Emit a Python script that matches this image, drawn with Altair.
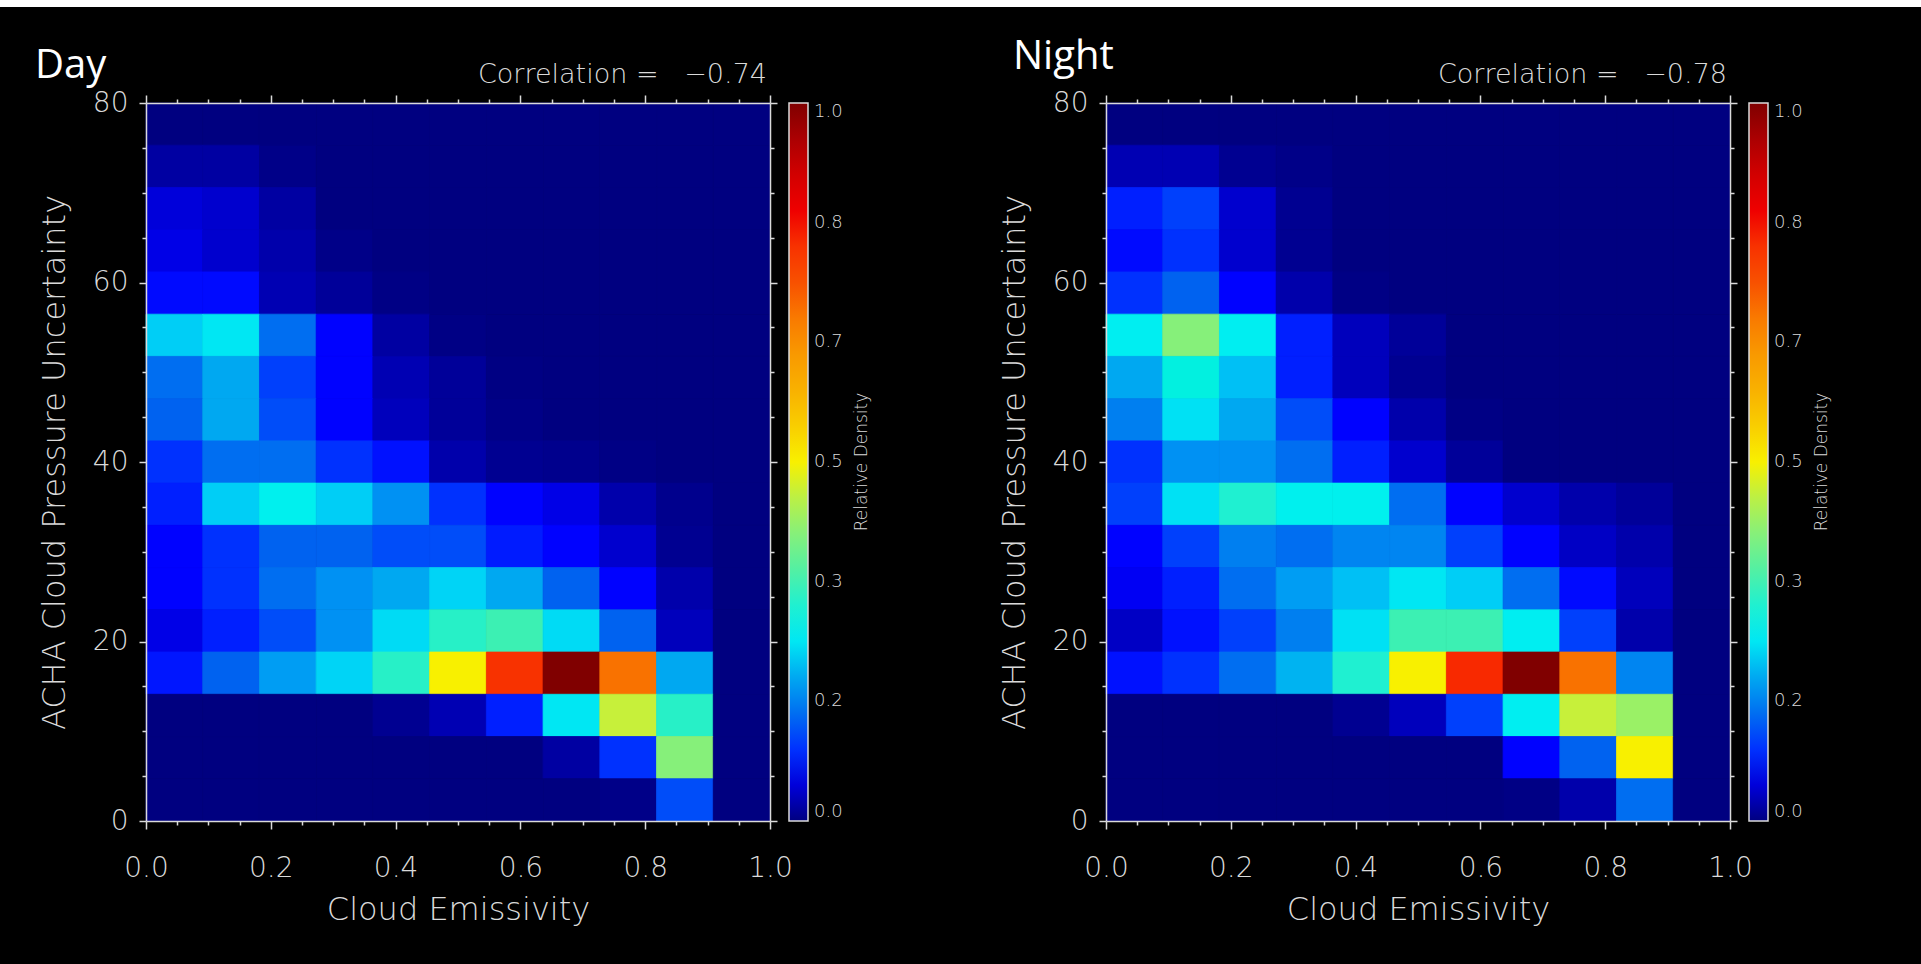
import altair as alt
import pandas as pd

# ---------------- data ----------------
panel_names = ["Day", "Night"]
correlation_labels = ["Correlation =\u00a0\u00a0\u00a0\u22120.74", "Correlation =\u00a0\u00a0\u00a0\u22120.78"]

n_emis_bins = 11          # Cloud Emissivity bins over 0 .. 1
emis_range = [0.0, 1.0]
n_unc_bins = 17           # ACHA Cloud Pressure Uncertainty bins over 0 .. 80
unc_range = [0.0, 80.0]

# relative density, rows listed from the top bin (75-80) down to the bottom bin (0-4.7)
day_density = [
    [0.000, 0.000, 0.000, 0.000, 0.000, 0.000, 0.000, 0.000, 0.000, 0.000, 0.000],
    [0.020, 0.020, 0.005, 0.000, 0.000, 0.000, 0.000, 0.000, 0.000, 0.000, 0.000],
    [0.050, 0.045, 0.020, 0.000, 0.000, 0.000, 0.000, 0.000, 0.000, 0.000, 0.000],
    [0.055, 0.045, 0.025, 0.005, 0.000, 0.000, 0.000, 0.000, 0.000, 0.000, 0.000],
    [0.070, 0.070, 0.030, 0.015, 0.003, 0.000, 0.000, 0.000, 0.000, 0.000, 0.000],
    [0.230, 0.250, 0.150, 0.065, 0.020, 0.003, 0.000, 0.000, 0.000, 0.000, 0.000],
    [0.150, 0.200, 0.110, 0.065, 0.030, 0.015, 0.002, 0.000, 0.000, 0.000, 0.000],
    [0.140, 0.200, 0.120, 0.065, 0.035, 0.015, 0.004, 0.000, 0.000, 0.000, 0.000],
    [0.100, 0.150, 0.150, 0.100, 0.075, 0.025, 0.010, 0.008, 0.003, 0.000, 0.000],
    [0.090, 0.230, 0.260, 0.230, 0.180, 0.100, 0.065, 0.055, 0.025, 0.008, 0.000],
    [0.065, 0.100, 0.140, 0.140, 0.120, 0.120, 0.085, 0.065, 0.045, 0.010, 0.000],
    [0.065, 0.100, 0.150, 0.180, 0.200, 0.235, 0.200, 0.140, 0.065, 0.025, 0.000],
    [0.055, 0.090, 0.120, 0.180, 0.240, 0.310, 0.330, 0.240, 0.140, 0.035, 0.000],
    [0.080, 0.140, 0.190, 0.235, 0.310, 0.500, 0.800, 1.000, 0.710, 0.200, 0.000],
    [0.000, 0.000, 0.000, 0.000, 0.010, 0.030, 0.090, 0.250, 0.460, 0.310, 0.000],
    [0.000, 0.000, 0.000, 0.000, 0.000, 0.000, 0.000, 0.020, 0.100, 0.400, 0.000],
    [0.000, 0.000, 0.000, 0.000, 0.000, 0.000, 0.000, 0.000, 0.005, 0.120, 0.000],
]

night_density = [
    [0.000, 0.000, 0.000, 0.000, 0.000, 0.000, 0.000, 0.000, 0.000, 0.000, 0.000],
    [0.030, 0.030, 0.010, 0.005, 0.000, 0.000, 0.000, 0.000, 0.000, 0.000, 0.000],
    [0.090, 0.110, 0.045, 0.010, 0.000, 0.000, 0.000, 0.000, 0.000, 0.000, 0.000],
    [0.070, 0.100, 0.045, 0.010, 0.000, 0.000, 0.000, 0.000, 0.000, 0.000, 0.000],
    [0.100, 0.140, 0.065, 0.025, 0.003, 0.000, 0.000, 0.000, 0.000, 0.000, 0.000],
    [0.255, 0.400, 0.255, 0.090, 0.035, 0.015, 0.000, 0.000, 0.000, 0.000, 0.000],
    [0.200, 0.280, 0.220, 0.090, 0.035, 0.010, 0.000, 0.000, 0.000, 0.000, 0.000],
    [0.165, 0.245, 0.200, 0.120, 0.065, 0.025, 0.003, 0.000, 0.000, 0.000, 0.000],
    [0.100, 0.180, 0.180, 0.150, 0.090, 0.045, 0.015, 0.000, 0.000, 0.000, 0.000],
    [0.110, 0.245, 0.300, 0.260, 0.260, 0.150, 0.065, 0.045, 0.025, 0.015, 0.000],
    [0.065, 0.110, 0.165, 0.150, 0.170, 0.170, 0.110, 0.065, 0.040, 0.025, 0.000],
    [0.060, 0.090, 0.150, 0.190, 0.220, 0.250, 0.230, 0.150, 0.070, 0.035, 0.000],
    [0.040, 0.075, 0.110, 0.165, 0.245, 0.330, 0.330, 0.255, 0.110, 0.025, 0.000],
    [0.075, 0.100, 0.150, 0.210, 0.300, 0.500, 0.810, 1.000, 0.710, 0.170, 0.000],
    [0.000, 0.000, 0.000, 0.000, 0.010, 0.035, 0.110, 0.255, 0.460, 0.420, 0.000],
    [0.000, 0.000, 0.000, 0.000, 0.000, 0.000, 0.000, 0.065, 0.140, 0.500, 0.000],
    [0.000, 0.000, 0.000, 0.000, 0.000, 0.000, 0.000, 0.003, 0.025, 0.150, 0.000],
]

# colour bar (stops)
cbar_stops = [0.0, 0.046, 0.064, 0.092, 0.138, 0.166, 0.208, 0.257, 0.301, 0.333,
              0.394, 0.454, 0.5, 0.57, 0.667, 0.751, 0.835, 0.918, 1.0]
cbar_colors = ["#000080", "#0000d0", "#0000ff", "#0020ff", "#0060f0", "#0080f0",
               "#00b0f0", "#00f0f0", "#20f0d0", "#40f0b0", "#80f080", "#c0f040",
               "#f8f000", "#f8c000", "#f89000", "#f85000", "#f80000", "#c80000", "#800000"]
cbar_ticks = [0.0, 1 / 6, 2 / 6, 3 / 6, 4 / 6, 5 / 6, 1.0]

x_ticks = [0.0, 0.05, 0.1, 0.15, 0.2, 0.25, 0.3, 0.35, 0.4, 0.45, 0.5,
           0.55, 0.6, 0.65, 0.7, 0.75, 0.8, 0.85, 0.9, 0.95, 1.0]
y_ticks = [0, 5, 10, 15, 20, 25, 30, 35, 40, 45, 50, 55, 60, 65, 70, 75, 80]

# ---------------- styling ----------------
W, H = 624, 718
FONT = "DejaVu Sans"
LIGHT = 200
FG = "#dadada"
MAJOR_X = "abs(datum.value*5 - round(datum.value*5)) < 0.001"
MAJOR_Y = "abs(datum.value/20 - round(datum.value/20)) < 0.001"


def cells(grid):
    rows = []
    dx = (emis_range[1] - emis_range[0]) / n_emis_bins
    dy = (unc_range[1] - unc_range[0]) / n_unc_bins
    for r, row in enumerate(grid):
        j = n_unc_bins - 1 - r
        for i, v in enumerate(row):
            rows.append({
                "e0": emis_range[0] + i * dx, "e1": emis_range[0] + (i + 1) * dx,
                "u0": unc_range[0] + j * dy, "u1": unc_range[0] + (j + 1) * dy,
                "density": v,
            })
    return pd.DataFrame(rows)


def panel(idx, grid, with_page_bg):
    df = cells(grid)
    xs = alt.Scale(domain=emis_range, nice=False, zero=False)
    ys = alt.Scale(domain=unc_range, nice=False, zero=False)
    cs = alt.Scale(domain=cbar_stops, range=cbar_colors, clamp=True)
    tick_x = {"condition": {"test": MAJOR_X, "value": 8}, "value": 4}
    tick_y = {"condition": {"test": MAJOR_Y, "value": 7}, "value": 4}
    lines = dict(domainColor=FG, domainWidth=1.5, tickColor=FG, tickWidth=1.5,
                 grid=False, zindex=1)
    texts = dict(labelFont=FONT, labelColor=FG, labelFontWeight=LIGHT, titleFont=FONT,
                 titleColor=FG, titleFontWeight=LIGHT)

    heat = alt.Chart(df).mark_rect(strokeWidth=0.8).encode(
        x=alt.X("e0:Q", scale=xs, axis=alt.Axis(
            orient="bottom", values=x_ticks, tickSize=tick_x,
            labelExpr=f"{MAJOR_X} ? format(datum.value, '.1f') : ''",
            labelFontSize=28, labelPadding=25, labelFlush=False, labelOverlap=False,
            title="Cloud Emissivity", titleFontSize=32, titlePadding=12, **lines, **texts)),
        x2="e1:Q",
        y=alt.Y("u0:Q", scale=ys, axis=alt.Axis(
            orient="left", values=y_ticks, tickSize=tick_y,
            labelExpr=f"{MAJOR_Y} ? format(datum.value, 'd') : ''",
            labelFontSize=28, labelPadding=11, labelFlush=False, labelOverlap=False,
            title="ACHA Cloud Pressure Uncertainty", titleFontSize=32, titlePadding=21,
            **lines, **texts)),
        y2="u1:Q",
        color=alt.Color("density:Q", scale=cs, legend=alt.Legend(
            title=None, orient="right", direction="vertical", type="gradient",
            gradientLength=H, gradientThickness=19, gradientStrokeColor=FG,
            gradientStrokeWidth=1.5, values=cbar_ticks, format=".1f",
            labelFont=FONT, labelFontSize=18, labelFontWeight=LIGHT, labelColor=FG,
            labelOffset=6, labelOverlap=False, offset=11, padding=0, zindex=1)),
        stroke=alt.Stroke("density:Q", scale=cs, legend=None),
    )

    frame = alt.Chart(df).mark_rect(opacity=0).encode(
        x=alt.X("e0:Q", scale=xs, axis=alt.Axis(
            orient="top", values=x_ticks, tickSize=tick_x, labels=False, title=None,
            **lines)),
        x2="e1:Q",
        y=alt.Y("u0:Q", scale=ys, axis=alt.Axis(
            orient="right", values=y_ticks, tickSize=tick_y, labels=False, title=None,
            **lines)),
        y2="u1:Q",
    )

    info = pd.DataFrame({"name": [panel_names[idx]], "corr": [correlation_labels[idx]],
                         "cbar": ["Relative Density"]})
    name_x = [-111, -93][idx]
    name_y = [-25, -34][idx]
    name = alt.Chart(info).mark_text(
        font="Open Sans", fontSize=40, color="white", align="left", baseline="alphabetic"
    ).encode(text="name:N", x=alt.value(name_x), y=alt.value(name_y))
    corr = alt.Chart(info).mark_text(
        font=FONT, fontSize=27, fontWeight=LIGHT, color=FG, align="right",
        baseline="alphabetic"
    ).encode(text="corr:N", x=alt.value(W - 3), y=alt.value(-20))
    cbar_title = alt.Chart(info).mark_text(
        font=FONT, fontSize=17, fontWeight=LIGHT, color=FG, align="center",
        baseline="middle", angle=270
    ).encode(text="cbar:N", x=alt.value(716), y=alt.value(H / 2))

    layers = [heat, frame, name, corr, cbar_title]
    if with_page_bg:
        page = pd.DataFrame({"part": ["page", "strip"], "fill": ["#000000", "#ffffff"],
                             "top": [-103, -103], "bottom": [861, -96]})
        bg = alt.Chart(page).mark_rect().encode(
            x=alt.value(-146), x2=alt.value(1921 - 146),
            y=alt.Y("top:Q", scale=None),
            y2=alt.Y2("bottom:Q"),
            fill=alt.Fill("fill:N", scale=None, legend=None),
        )
        layers = [bg] + layers
    return alt.layer(*layers).resolve_axis(x="independent", y="independent").properties(
        width=W, height=H)


chart = alt.hconcat(
    panel(0, day_density, True), panel(1, night_density, False),
    spacing=960 - W, bounds="flush",
).resolve_scale(color="independent").properties(
    padding=0, background="black", autosize=alt.AutoSizeParams(type="pad"),
).configure_view(stroke=None)

chart.save("out.html", embed_options={"renderer": "svg", "actions": False})
